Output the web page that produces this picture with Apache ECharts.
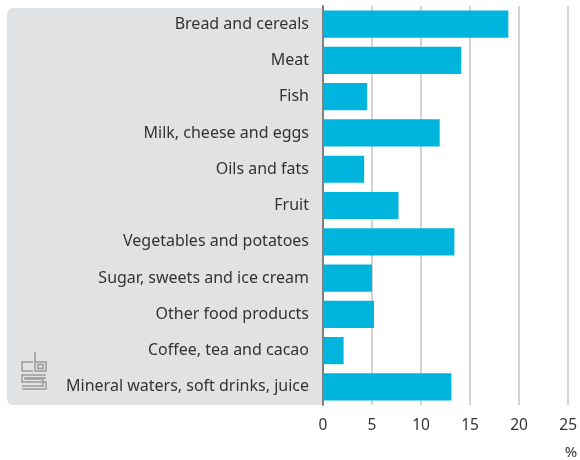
<!DOCTYPE html>
<html>
<head>
<meta charset="utf-8">
<script src="https://cdn.jsdelivr.net/npm/echarts@6/dist/echarts.min.js"></script>
<style>html,body{margin:0;padding:0;background:#fff;}#c{width:580px;height:460px;}</style>
</head>
<body>
<div id="c"></div>
<script>
const categories = [
  "Bread and cereals",
  "Meat",
  "Fish",
  "Milk, cheese and eggs",
  "Oils and fats",
  "Fruit",
  "Vegetables and potatoes",
  "Sugar, sweets and ice cream",
  "Other food products",
  "Coffee, tea and cacao",
  "Mineral waters, soft drinks, juice"
];
const values = [18.9, 14.1, 4.5, 11.9, 4.2, 7.7, 13.4, 5.0, 5.2, 2.1, 13.1];
const xTicks = { min: 0, max: 25, interval: 5 };
const unitLabel = "%";

const chart = echarts.init(document.getElementById('c'), null, { renderer: 'canvas' });
const font = '"Noto Sans", sans-serif';
const logoStyle = { stroke: '#9a9a9a', lineWidth: 1.5, fill: null };
chart.setOption({
  animation: false,
  grid: { left: 323, right: 11, top: 6, bottom: 55, containLabel: false },
  xAxis: {
    type: 'value', min: xTicks.min, max: xTicks.max, interval: xTicks.interval,
    axisLine: { show: false }, axisTick: { show: false },
    splitLine: { show: true, lineStyle: { color: '#c6c6c6', width: 1.5 } },
    axisLabel: { color: '#333', fontSize: 15.5, fontFamily: font, margin: 13 }
  },
  yAxis: {
    type: 'category', data: categories, inverse: true,
    axisLine: { show: true, lineStyle: { color: '#808080', width: 2 } },
    axisTick: { show: false },
    axisLabel: { color: '#333', fontSize: 16, fontFamily: font, margin: 14, padding: [2, 0, 0, 0] }
  },
  series: [{
    type: 'bar', data: values, barCategoryGap: '25%',
    itemStyle: { color: '#00b5dd' }, z: 3
  }],
  graphic: [
    { type: 'rect', z: -10, shape: { x: 7, y: 8, width: 316, height: 397, r: [6, 0, 0, 6] }, style: { fill: '#e1e2e3' } },
    { type: 'text', z: 10, style: { text: unitLabel, x: 571, y: 453, fill: '#333', font: '15px ' + font, align: 'center', verticalAlign: 'middle' } },
    { type: 'polyline', z: 10, shape: { points: [[33, 362], [22, 362], [22, 371], [33, 371]] }, style: logoStyle },
    { type: 'polyline', z: 10, shape: { points: [[35, 352], [35, 371], [46, 371], [46, 362], [35, 362]] }, style: logoStyle },
    { type: 'rect', z: 10, shape: { x: 38, y: 364.5, width: 5, height: 4 }, style: logoStyle },
    { type: 'polyline', z: 10, shape: { points: [[46, 375], [22, 375], [22, 382], [46, 382], [46, 389], [22, 389]] }, style: logoStyle },
    { type: 'polyline', z: 10, shape: { points: [[46, 378], [25, 378], [25, 379], [43, 379], [43, 386], [22, 386]] }, style: logoStyle }
  ]
});
</script>
</body>
</html>
